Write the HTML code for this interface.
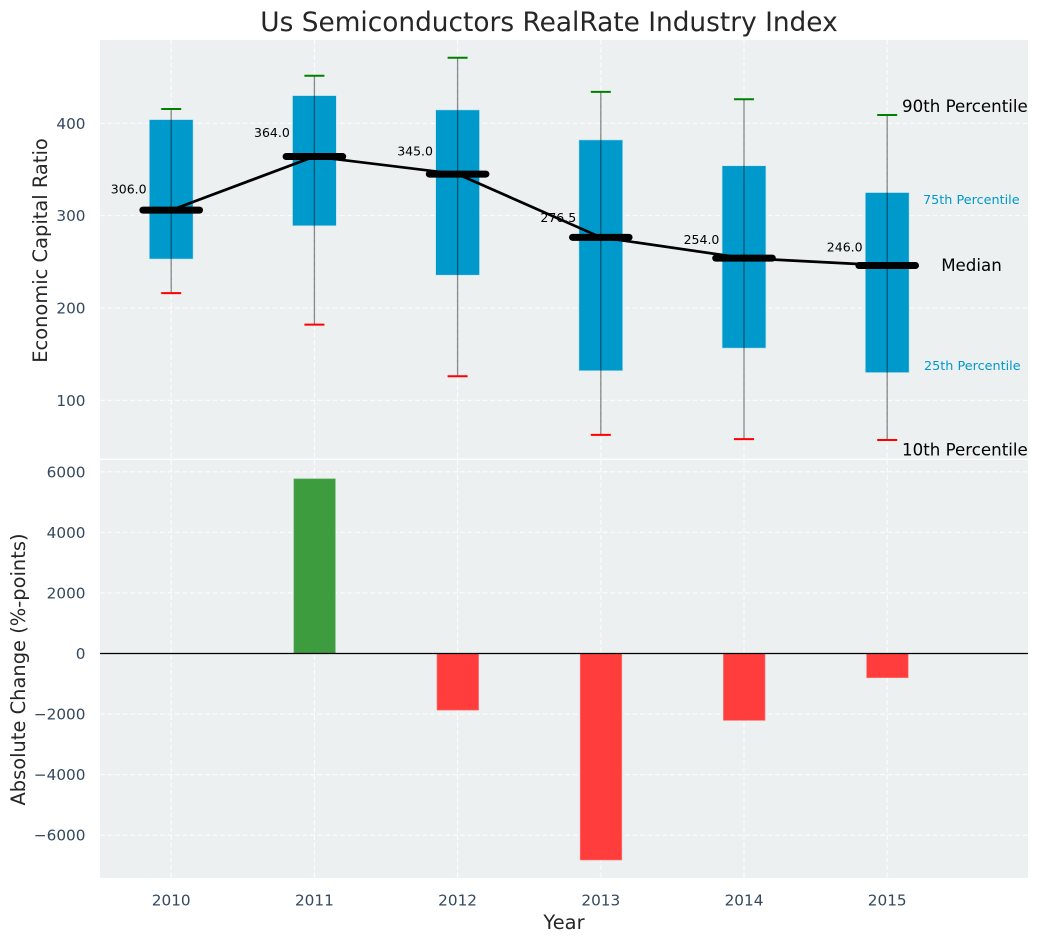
<!DOCTYPE html>
<html>
<head>
<meta charset="utf-8">
<style>
html,body{margin:0;padding:0;background:#fff;}
svg{display:block;}
text{font-family:"DejaVu Sans","Liberation Sans",sans-serif;}
</style>
</head>
<body>
<svg id="chart" width="1039" height="942" viewBox="0 0 1039 942" xmlns="http://www.w3.org/2000/svg"></svg>
<script>
const years = [2010, 2011, 2012, 2013, 2014, 2015];
const p90 = [415.5, 451.5, 471, 434, 426, 409];
const p75 = [404, 430, 414.5, 382, 354, 325];
const medians = [306, 364, 345, 276.5, 254, 246];
const p25 = [253, 289, 235.5, 132, 156.5, 130];
const p10 = [216, 182, 126, 62.5, 58, 57];
const changes = [0, 5770, -1870, -6820, -2210, -800];
const topTicks = [100, 200, 300, 400];
const bottomTicks = [-6000, -4000, -2000, 0, 2000, 4000, 6000];

const svg = document.getElementById('chart');
const NS = 'http://www.w3.org/2000/svg';
const L = 100, R = 1028, T1 = 40, B1 = 458.5, T2 = 460, B2 = 878;
const xS = v => 171.2 + (v - 2010) * 143.2;
const yTop = v => 123.3 + (400 - v) * 0.9233;
const yBot = v => 653.5 - v * 0.03028;

function mk(tag, props, parent) {
  const el = document.createElementNS(NS, tag);
  for (const k in props) el.setAttribute(k, props[k]);
  (parent || svg).appendChild(el);
  return el;
}
function txt(s, x, y, size, fill, anchor, extra) {
  const el = mk('text', Object.assign({x: x, y: y, 'font-size': size, fill: fill, 'text-anchor': anchor || 'start'}, extra || {}));
  el.textContent = s;
  return el;
}
const fmtTick = v => (v < 0 ? '\u2212' + Math.abs(v) : String(v));

// panel backgrounds
let topBg = mk('rect', {x: L, y: T1, width: R - L, height: B1 - T1, fill: '#ecf0f1'});


let botBg = mk('rect', {x: L, y: T2, width: R - L, height: B2 - T2, fill: '#ecf0f1'});



const gridStyle = {stroke: '#ffffff', 'stroke-width': 1.1, 'stroke-dasharray': '5 2.5', 'stroke-opacity': 0.85};

// grid lines
topTicks.forEach(t => {
  const g = mk('line', Object.assign({x1: L, x2: R, y1: yTop(t), y2: yTop(t)}, gridStyle));
  
  
});
bottomTicks.forEach(t => {
  const g = mk('line', Object.assign({x1: L, x2: R, y1: yBot(t), y2: yBot(t)}, gridStyle));
  
  
});
years.forEach(y => {
  const g1 = mk('line', Object.assign({x1: xS(y), x2: xS(y), y1: T1, y2: B1}, gridStyle));
  
  
  const g2 = mk('line', Object.assign({x1: xS(y), x2: xS(y), y1: T2, y2: B2}, gridStyle));
  
  
});

// boxes
years.forEach((y, i) => {
  const box = mk('rect', {x: xS(y) - 21.9, y: yTop(p75[i]), width: 43.8, height: yTop(p25[i]) - yTop(p75[i]), fill: '#0099cc', stroke: '#bfe3ef', 'stroke-width': 0.6});
  
  
});

// whiskers and caps
years.forEach((y, i) => {
  const w = mk('line', {x1: xS(y), x2: xS(y), y1: yTop(p90[i]), y2: yTop(p10[i]), stroke: '#000', 'stroke-opacity': 0.45, 'stroke-width': 1.3});
  
  
  const hi = mk('line', {x1: xS(y) - 10, x2: xS(y) + 10, y1: yTop(p90[i]), y2: yTop(p90[i]), stroke: '#008000', 'stroke-width': 2});
  
  
  const lo = mk('line', {x1: xS(y) - 10, x2: xS(y) + 10, y1: yTop(p10[i]), y2: yTop(p10[i]), stroke: '#ff0000', 'stroke-width': 2});
  
  
});

// median trend line
const trend = mk('polyline', {points: years.map((y, i) => xS(y) + ',' + yTop(medians[i])).join(' '), fill: 'none', stroke: '#000', 'stroke-width': 2.7, 'stroke-linejoin': 'round'});



// median bars and labels
years.forEach((y, i) => {
  const m = mk('line', {x1: xS(y) - 28.3, x2: xS(y) + 28.3, y1: yTop(medians[i]), y2: yTop(medians[i]), stroke: '#000', 'stroke-width': 7, 'stroke-linecap': 'round'});
  
  
  const l = txt(medians[i].toFixed(1), xS(y) - 24.6, yTop(medians[i] * 1.05) - 2.5, 12.5, '#000', 'end');
  
  
});

// bottom bars
years.forEach((y, i) => {
  if (changes[i] === 0) return;
  const top = Math.min(yBot(changes[i]), yBot(0));
  const h = Math.abs(yBot(changes[i]) - yBot(0));
  const b = mk('rect', {x: xS(y) - 20.6, y: top, width: 41.6, height: h, fill: changes[i] > 0 ? '#3d9c3d' : '#ff3d3d', stroke: changes[i] > 0 ? '#7cbb7c' : '#ff7a7a', 'stroke-width': 0.6});
  
  
});
const zero = mk('line', {x1: L, x2: R, y1: yBot(0), y2: yBot(0), stroke: '#000', 'stroke-width': 1.2});



// percentile annotations (anchored to the last year)
const last = years.length - 1;
const lx = xS(years[last]);
const a90 = txt('90th Percentile', lx + 14.8, yTop(p90[last]) - 3, 16.67, '#000');


const a75 = txt('75th Percentile', lx + 35.8, yTop(p75[last]) + 11.5, 12.8, '#0099cc');


const aMed = txt('Median', lx + 54, yTop(medians[last]) + 5.5, 16.67, '#000');


const a25 = txt('25th Percentile', lx + 36.8, yTop(p25[last]) - 2.5, 12.8, '#0099cc');


const a10 = txt('10th Percentile', lx + 14.8, yTop(p10[last]) + 15.5, 16.67, '#000');



// tick labels
topTicks.forEach(t => {
  const l = txt(fmtTick(t), 85.5, yTop(t) + 5.5, 15.28, '#34495e', 'end');
  
  
});
bottomTicks.forEach(t => {
  const l = txt(fmtTick(t), 85.5, yBot(t) + 5.5, 15.28, '#34495e', 'end');
  
  
});
years.forEach(y => {
  const l = txt(String(y), xS(y), 905.5, 15.28, '#34495e', 'middle');
  
  
});

// titles
const title = txt('Us Semiconductors RealRate Industry Index', 549, 31, 26.39, '#262626', 'middle');


const xLabel = txt('Year', 564, 929, 19.44, '#262626', 'middle');


const yTopLabel = txt('Economic Capital Ratio', 0, 0, 19.44, '#262626', 'middle', {transform: 'translate(47,250.5) rotate(-90)'});


const yBotLabel = txt('Absolute Change (%-points)', 0, 0, 19.44, '#262626', 'middle', {transform: 'translate(25,669.5) rotate(-90)'});


</script>
</body>
</html>
